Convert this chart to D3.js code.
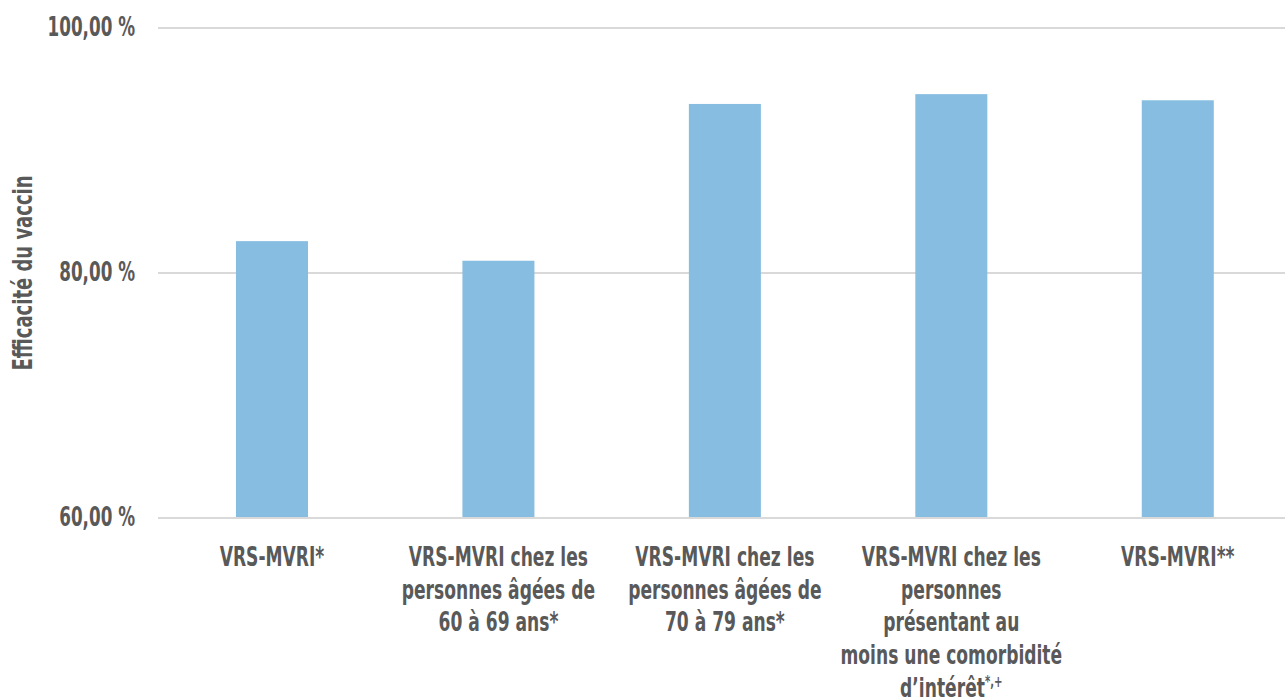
<!DOCTYPE html>
<html lang="fr">
<head>
<meta charset="utf-8">
<script src="https://cdn.jsdelivr.net/npm/d3@7"></script>
<style>
  html, body { margin: 0; padding: 0; background: #fff; }
  svg { display: block; }
  .lbl { font-family: "DejaVu Sans Condensed", "Liberation Sans Narrow", sans-serif; font-weight: bold; fill: #595959; }
</style>
</head>
<body>
<svg id="chart" width="1285" height="700"></svg>
<script>
// Vaccine efficacy by group (percent)
const categories = [
  ["VRS-MVRI*"],
  ["VRS-MVRI chez les", "personnes âgées de", "60 à 69 ans*"],
  ["VRS-MVRI chez les", "personnes âgées de", "70 à 79 ans*"],
  ["VRS-MVRI chez les", "personnes", "présentant au", "moins une comorbidité", "d’intérêt|*,+"],
  ["VRS-MVRI**"]
];
const values = [82.6, 81.0, 93.8, 94.6, 94.1];
const yTicks = [60, 80, 100];
const yTitle = "Efficacité du vaccin";

const svg = d3.select("#chart");
const plotLeft = 158.75, plotRight = 1291, plotTop = 28, plotBottom = 518;
const fontSize = 27, squeeze = 0.705;   // condensed look via horizontal scaling

const x = d3.scaleBand()
  .domain(d3.range(values.length))
  .range([plotLeft, plotRight])
  .paddingInner(0.682)
  .paddingOuter(0.341);

const y = d3.scaleLinear().domain([60, 100]).range([plotBottom, plotTop]);

// gridlines
svg.append("g").selectAll("line")
  .data(yTicks)
  .join("line")
  .attr("x1", 158).attr("x2", 1285)
  .attr("y1", d => y(d)).attr("y2", d => y(d))
  .attr("stroke", "#d9d9d9").attr("stroke-width", 2);

// bars
svg.append("g").selectAll("rect")
  .data(values)
  .join("rect")
  .attr("x", (d, i) => x(i))
  .attr("width", x.bandwidth())
  .attr("y", d => y(d))
  .attr("height", d => y(60) - y(d) - 1)
  .attr("fill", "#86bde0");

// y tick labels
const fmt = d => d.toFixed(2).replace(".", ",") + " %";
svg.append("g").selectAll("text")
  .data(yTicks)
  .join("text")
  .attr("class", "lbl")
  .attr("transform", d => `translate(135,${y(d) + 8}) scale(${squeeze},1)`)
  .attr("text-anchor", "end")
  .attr("font-size", 26.5)
  .text(fmt);

// y axis title
svg.append("text")
  .attr("class", "lbl")
  .attr("transform", `translate(32,${y(80)}) rotate(-90) scale(0.74,1)`)
  .attr("text-anchor", "middle")
  .attr("font-size", fontSize)
  .text(yTitle);

// category labels
const catG = svg.append("g");
categories.forEach((lines, i) => {
  const cx = x(i) + x.bandwidth() / 2;
  const t = catG.append("text")
    .attr("class", "lbl")
    .attr("text-anchor", "middle")
    .attr("font-size", fontSize)
    .attr("transform", `translate(${cx},566) scale(${squeeze},1)`);
  lines.forEach((line, j) => {
    const parts = line.split("|");
    t.append("tspan")
      .attr("x", 0)
      .attr("dy", j === 0 ? 0 : 32.7)
      .text(parts[0]);
    if (parts.length > 1) {
      t.append("tspan")
        .attr("font-size", 16)
        .attr("dy", -10)
        .text(parts[1]);
    }
  });
});
</script>
</body>
</html>
